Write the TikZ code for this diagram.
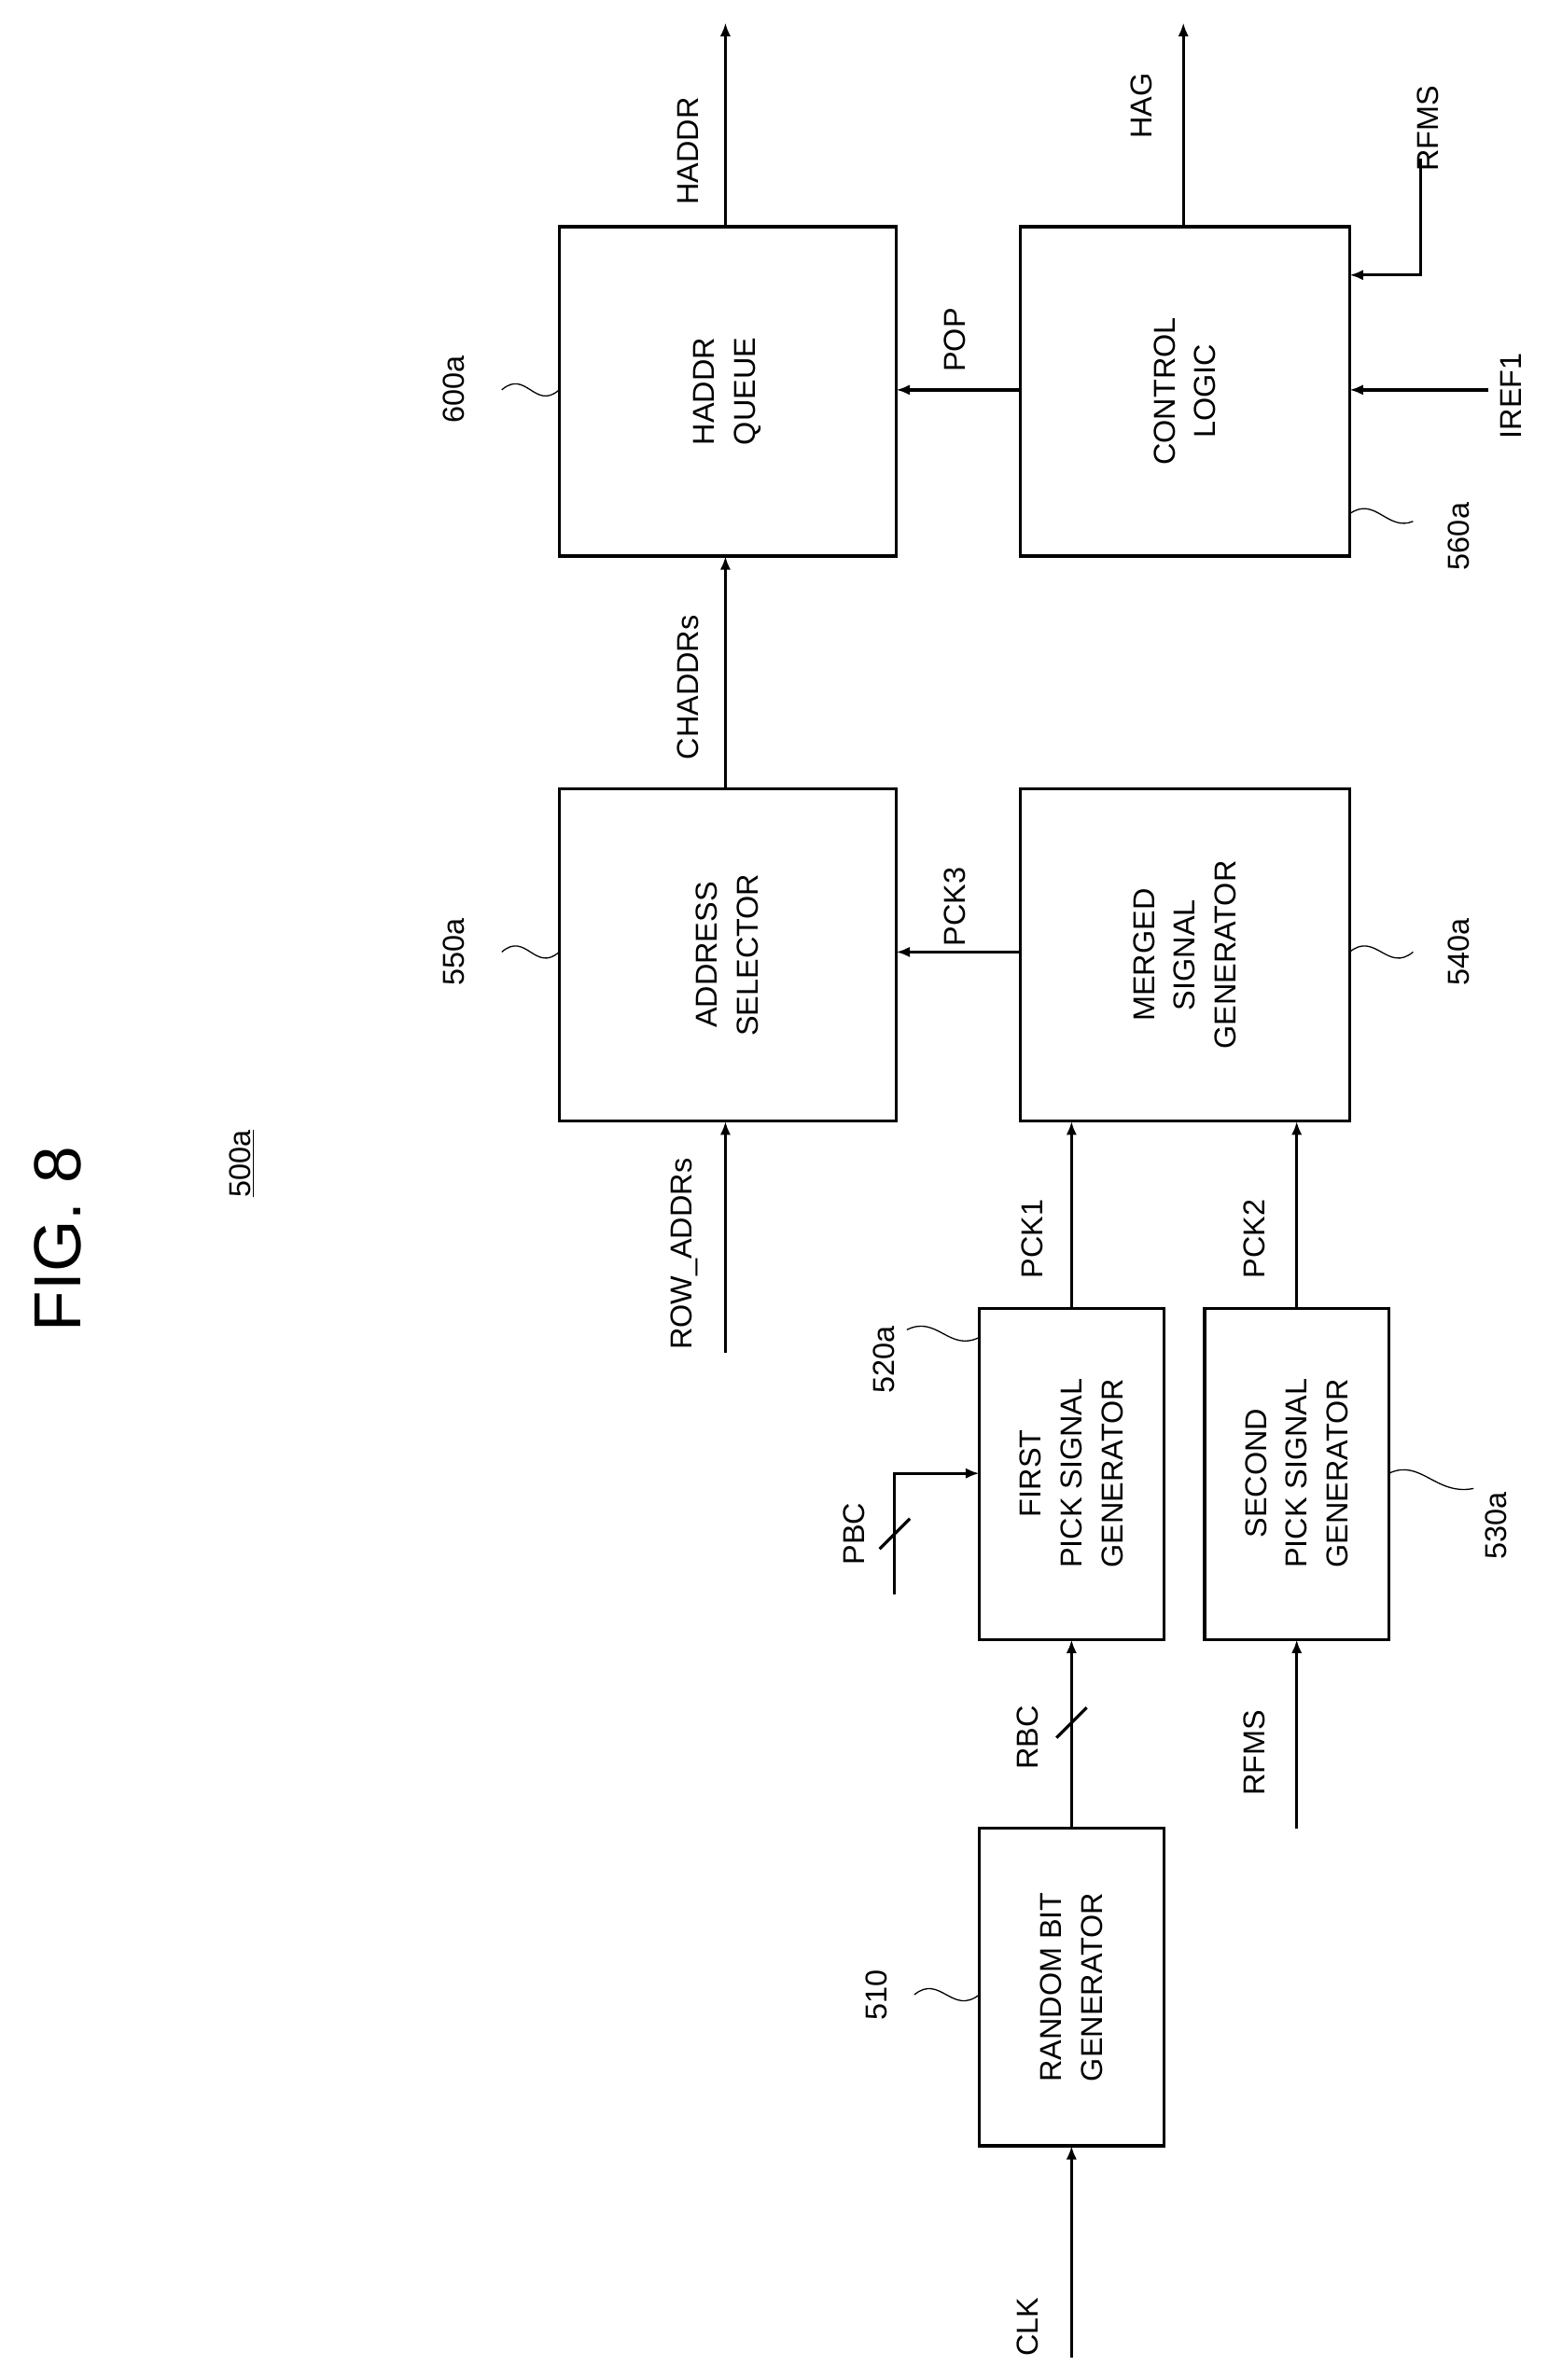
\documentclass[tikz,border=0pt]{standalone}
\usepackage{fontspec}
\setmainfont{Liberation Sans}
\usetikzlibrary{arrows.meta}
\begin{document}
\begin{tikzpicture}[x=1pt,y=-1pt,
  box/.style={draw,line width=2pt,inner sep=0pt},
  lab/.style={rotate=90,font=\fontsize{20}{24}\selectfont,inner sep=1pt},
  btxt/.style={rotate=90,font=\fontsize{20}{27}\selectfont,align=center},
  arr/.style={line width=2pt,-{Latex[length=9pt,width=7pt]}},
  ln/.style={line width=2pt},
  lead/.style={line width=0.8pt}]
\useasboundingbox (0,0) rectangle (1024,1575);
% boxes
\draw[box] (648,1210) rectangle (770,1420); \node[btxt] (rbg) at (709,1315) {RANDOM BIT\\GENERATOR};
\draw[box] (648,866) rectangle (770,1085); \node[btxt] (fp) at (709,975) {FIRST\\PICK SIGNAL\\GENERATOR};
\draw[box] (797,866) rectangle (919,1085); \node[btxt] (sp) at (858,975) {SECOND\\PICK SIGNAL\\GENERATOR};
\draw[box] (370,522) rectangle (593,742); \node[btxt] (as) at (481,632) {ADDRESS\\SELECTOR};
\draw[box] (675,522) rectangle (893,742); \node[btxt] (mg) at (784,632) {MERGED\\SIGNAL\\GENERATOR};
\draw[box] (370,150) rectangle (593,368); \node[btxt] (hq) at (481,259) {HADDR\\QUEUE};
\draw[box] (675,150) rectangle (893,368); \node[btxt] (cl) at (784,259) {CONTROL\\LOGIC};
% coordinates
\coordinate (clkS) at (709,1560); \coordinate (rbgT) at (709,1420);
\coordinate (rbgB) at (709,1210); \coordinate (fpT) at (709,1085);
\coordinate (rfS) at (858,1210); \coordinate (spT) at (858,1085);
\coordinate (fpB) at (709,866); \coordinate (mgT1) at (709,742);
\coordinate (spB) at (858,866); \coordinate (mgT2) at (858,742);
\coordinate (rowS) at (480,895); \coordinate (asT) at (480,742);
\coordinate (mgL) at (675,630); \coordinate (asR) at (593,630);
\coordinate (asB) at (480,522); \coordinate (hqT) at (480,368);
\coordinate (clL) at (675,258); \coordinate (hqR) at (593,258);
\coordinate (hqB) at (480,150); \coordinate (hout) at (480,15);
\coordinate (clB) at (783,150); \coordinate (hag) at (783,15);
\coordinate (pbcS) at (592,1055); \coordinate (pbcK) at (592,975); \coordinate (fpL) at (648,975);
\coordinate (rf2S) at (940,105); \coordinate (rf2K) at (940,182); \coordinate (clR1) at (893,182);
\coordinate (irS) at (985,258); \coordinate (clR2) at (893,258);
% arrows
\draw[arr] (clkS) -- (rbgT);
\draw[arr] (rbgB) -- (fpT);
\draw[ln] (699,1150) -- (719,1130);
\draw[arr] (rfS) -- (spT);
\draw[arr] (fpB) -- (mgT1);
\draw[arr] (spB) -- (mgT2);
\draw[arr] (rowS) -- (asT);
\draw[arr] (mgL) -- (asR);
\draw[arr] (asB) -- (hqT);
\draw[arr] (clL) -- (hqR);
\draw[arr] (hqB) -- (hout);
\draw[arr] (clB) -- (hag);
\draw[arr] (pbcS) -- (pbcK) -- (fpL);
\draw[ln] (582,1025) -- (602,1005);
\draw[arr] (rf2S) -- (rf2K) -- (clR1);
\draw[arr] (irS) -- (clR2);
% labels
\node[lab] at (680,1540) {CLK};
\node[lab] at (680,1150) {RBC};
\node[lab] at (565,1015) {PBC};
\node[lab] at (830,1160) {RFMS};
\node[lab] at (683,820) {PCK1};
\node[lab] at (830,820) {PCK2};
\node[lab] at (453,830) {ROW\_ADDRs};
\node[lab] at (632,600) {PCK3};
\node[lab] at (455,455) {CHADDRs};
\node[lab] at (632,225) {POP};
\node[lab] at (455,100) {HADDR};
\node[lab] at (755,70) {HAG};
\node[lab] at (945,85) {RFMS};
\node[lab] at (1000,262) {IREF1};
% reference numerals
\node[lab] at (300,258) {600a};
\draw[lead] (332,258) .. controls (348,244) and (354,272) .. (370,258);
\node[lab] at (300,630) {550a};
\draw[lead] (332,630) .. controls (348,616) and (354,644) .. (370,630);
\node[lab] at (585,900) {520a};
\draw[lead] (600,880) .. controls (620,870) and (628,895) .. (648,885);
\node[lab] at (580,1320) {510};
\draw[lead] (605,1320) .. controls (622,1306) and (630,1334) .. (648,1320);
\node[lab] at (990,1010) {530a};
\draw[lead] (919,975) .. controls (940,965) and (950,990) .. (975,985);
\node[lab] at (965,630) {540a};
\draw[lead] (893,630) .. controls (910,616) and (918,644) .. (935,630);
\node[lab] at (965,355) {560a};
\draw[lead] (893,340) .. controls (910,328) and (918,352) .. (935,345);
\node[rotate=90,font=\fontsize{44}{50}\selectfont] at (38,820) {FIG. 8};
\node[lab] at (160,770) {\underline{500a}};
\end{tikzpicture}
\end{document}
